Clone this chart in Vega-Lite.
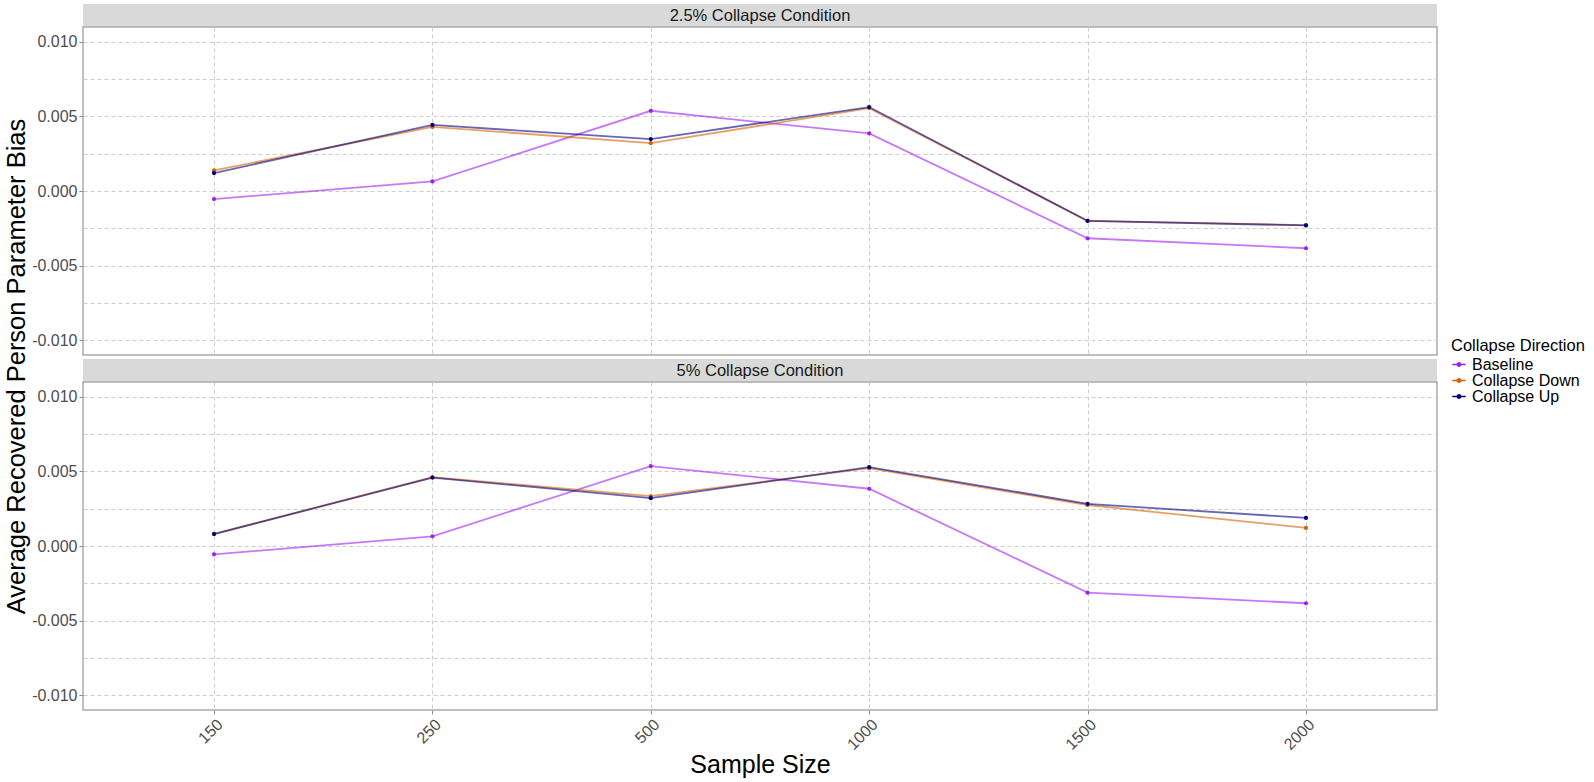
{
  "$schema": "https://vega.github.io/schema/vega-lite/v6.json",
  "padding": {"left": 3, "top": 4, "right": 5, "bottom": 0},
  "background": "white",
  "config": {
    "font": "Liberation Sans",
    "view": {"stroke": "#ababab", "strokeWidth": 1.5},
    "axis": {
      "domain": false,
      "gridColor": "#cccccc",
      "gridDash": [4, 3],
      "gridWidth": 1,
      "labelFont": "Liberation Sans",
      "labelFontSize": 16,
      "labelColor": "#4d4d4d",
      "tickColor": "#8c8c8c",
      "tickSize": 4,
      "tickWidth": 1,
      "titleFont": "Liberation Sans",
      "titleFontWeight": "normal",
      "titleFontSize": 25,
      "titleColor": "#000000"
    },
    "legend": {
      "titleFont": "Liberation Sans",
      "titleFontSize": 16.5,
      "titleFontWeight": "normal",
      "titleColor": "#000000",
      "labelFont": "Liberation Sans",
      "labelFontSize": 16,
      "labelColor": "#000000",
      "rowPadding": 0,
      "clipHeight": 14,
      "padding": 0,
      "titlePadding": 3,
      "labelOffset": 5,
      "symbolType": "M-1,0L1,0M-0.25,0A0.25,0.25,0,1,0,0.25,0A0.25,0.25,0,1,0,-0.25,0Z",
      "symbolSize": 180,
      "symbolStrokeWidth": 1.5,
      "symbolOpacity": 1
    }
  },
  "datasets": {
    "bias": [
      {"cond": "2.5%", "dir": "Baseline", "n": 150, "bias": -0.00054},
      {"cond": "2.5%", "dir": "Baseline", "n": 250, "bias": 0.00064},
      {"cond": "2.5%", "dir": "Baseline", "n": 500, "bias": 0.00538},
      {"cond": "2.5%", "dir": "Baseline", "n": 1000, "bias": 0.00386},
      {"cond": "2.5%", "dir": "Baseline", "n": 1500, "bias": -0.00317},
      {"cond": "2.5%", "dir": "Baseline", "n": 2000, "bias": -0.00384},
      {"cond": "2.5%", "dir": "Collapse Down", "n": 150, "bias": 0.00138},
      {"cond": "2.5%", "dir": "Collapse Down", "n": 250, "bias": 0.00430},
      {"cond": "2.5%", "dir": "Collapse Down", "n": 500, "bias": 0.00321},
      {"cond": "2.5%", "dir": "Collapse Down", "n": 1000, "bias": 0.00556},
      {"cond": "2.5%", "dir": "Collapse Down", "n": 1500, "bias": -0.00200},
      {"cond": "2.5%", "dir": "Collapse Down", "n": 2000, "bias": -0.00229},
      {"cond": "2.5%", "dir": "Collapse Up", "n": 150, "bias": 0.00120},
      {"cond": "2.5%", "dir": "Collapse Up", "n": 250, "bias": 0.00443},
      {"cond": "2.5%", "dir": "Collapse Up", "n": 500, "bias": 0.00348},
      {"cond": "2.5%", "dir": "Collapse Up", "n": 1000, "bias": 0.00563},
      {"cond": "2.5%", "dir": "Collapse Up", "n": 1500, "bias": -0.00201},
      {"cond": "2.5%", "dir": "Collapse Up", "n": 2000, "bias": -0.00231},
      {"cond": "5%", "dir": "Baseline", "n": 150, "bias": -0.00056},
      {"cond": "5%", "dir": "Baseline", "n": 250, "bias": 0.00065},
      {"cond": "5%", "dir": "Baseline", "n": 500, "bias": 0.00536},
      {"cond": "5%", "dir": "Baseline", "n": 1000, "bias": 0.00384},
      {"cond": "5%", "dir": "Baseline", "n": 1500, "bias": -0.00313},
      {"cond": "5%", "dir": "Baseline", "n": 2000, "bias": -0.00384},
      {"cond": "5%", "dir": "Collapse Down", "n": 150, "bias": 0.00081},
      {"cond": "5%", "dir": "Collapse Down", "n": 250, "bias": 0.00461},
      {"cond": "5%", "dir": "Collapse Down", "n": 500, "bias": 0.00335},
      {"cond": "5%", "dir": "Collapse Down", "n": 1000, "bias": 0.00522},
      {"cond": "5%", "dir": "Collapse Down", "n": 1500, "bias": 0.00275},
      {"cond": "5%", "dir": "Collapse Down", "n": 2000, "bias": 0.00121},
      {"cond": "5%", "dir": "Collapse Up", "n": 150, "bias": 0.00080},
      {"cond": "5%", "dir": "Collapse Up", "n": 250, "bias": 0.00459},
      {"cond": "5%", "dir": "Collapse Up", "n": 500, "bias": 0.00321},
      {"cond": "5%", "dir": "Collapse Up", "n": 1000, "bias": 0.00529},
      {"cond": "5%", "dir": "Collapse Up", "n": 1500, "bias": 0.00283},
      {"cond": "5%", "dir": "Collapse Up", "n": 2000, "bias": 0.00188}
    ]
  },
  "bounds": "flush",
  "spacing": 0,
  "resolve": {"scale": {"x": "independent", "y": "independent", "color": "shared"}},
  "vconcat": [
    {
      "width": 1354,
      "height": 23,
      "view": {"fill": "#d9d9d9", "stroke": null},
      "data": {"values": [{"label": "2.5% Collapse Condition"}]},
      "mark": {"type": "text", "fontSize": 16.5, "color": "#1a1a1a", "baseline": "middle", "font": "Liberation Sans"},
      "encoding": {"text": {"field": "label", "type": "nominal"}}
    },
    {
      "width": 1354,
      "height": 328,
      "data": {"name": "bias"},
      "transform": [{"filter": "datum.cond == '2.5%'"}],
      "encoding": {
        "x": {
          "field": "n", "type": "ordinal",
          "scale": {"type": "point", "padding": 0.6},
          "axis": {"labels": false, "ticks": false, "title": null, "grid": true}
        },
        "y": {
          "field": "bias", "type": "quantitative",
          "scale": {"domain": [-0.011, 0.011], "nice": false, "zero": false},
          "axis": {
            "values": [-0.01, -0.0075, -0.005, -0.0025, 0, 0.0025, 0.005, 0.0075, 0.01],
            "labelExpr": "round(datum.value*400) % 2 == 0 ? replace(format(datum.value, '.3f'), '\u2212', '-') : ''",
            "tickOpacity": {"condition": {"test": "round(datum.value*400) % 2 == 0", "value": 1}, "value": 0},
            "labelPadding": 2,
            "grid": true,
            "title": "Average Recovered Person Parameter Bias",
            "titleFontSize": 25.5,
            "titleX": -59,
            "titleY": 339,
            "titleAngle": 270,
            "titleAlign": "center",
            "titleBaseline": "alphabetic"
          }
        },
        "color": {
          "field": "dir", "type": "nominal",
          "scale": {"domain": ["Baseline", "Collapse Down", "Collapse Up"], "range": ["#A020F0", "#D95F02", "#000080"]},
          "legend": {"title": "Collapse Direction", "orient": "none", "legendX": 1368, "legendY": 334}
        }
      },
      "layer": [
        {"mark": {"type": "line", "strokeWidth": 1.8, "opacity": 0.6}},
        {"mark": {"type": "point", "filled": true, "size": 18, "opacity": 1}}
      ]
    },
    {
      "width": 1354,
      "height": 4,
      "view": {"stroke": null},
      "data": {"values": []},
      "mark": "text",
      "encoding": {}
    },
    {
      "width": 1354,
      "height": 23,
      "view": {"fill": "#d9d9d9", "stroke": null},
      "data": {"values": [{"label": "5% Collapse Condition"}]},
      "mark": {"type": "text", "fontSize": 16.5, "color": "#1a1a1a", "baseline": "middle", "font": "Liberation Sans"},
      "encoding": {"text": {"field": "label", "type": "nominal"}}
    },
    {
      "width": 1354,
      "height": 328,
      "data": {"name": "bias"},
      "transform": [{"filter": "datum.cond == '5%'"}],
      "encoding": {
        "x": {
          "field": "n", "type": "ordinal",
          "scale": {"type": "point", "padding": 0.6},
          "axis": {"title": "Sample Size", "labelAngle": -45, "labelAlign": "right", "labelBaseline": "top", "labelPadding": 2, "titlePadding": 0, "grid": true}
        },
        "y": {
          "field": "bias", "type": "quantitative",
          "scale": {"domain": [-0.011, 0.011], "nice": false, "zero": false},
          "axis": {
            "values": [-0.01, -0.0075, -0.005, -0.0025, 0, 0.0025, 0.005, 0.0075, 0.01],
            "labelExpr": "round(datum.value*400) % 2 == 0 ? replace(format(datum.value, '.3f'), '\u2212', '-') : ''",
            "tickOpacity": {"condition": {"test": "round(datum.value*400) % 2 == 0", "value": 1}, "value": 0},
            "labelPadding": 2,
            "grid": true,
            "title": null
          }
        },
        "color": {
          "field": "dir", "type": "nominal",
          "scale": {"domain": ["Baseline", "Collapse Down", "Collapse Up"], "range": ["#A020F0", "#D95F02", "#000080"]},
          "legend": {"title": "Collapse Direction", "orient": "none", "legendX": 1368, "legendY": 334}
        }
      },
      "layer": [
        {"mark": {"type": "line", "strokeWidth": 1.8, "opacity": 0.6}},
        {"mark": {"type": "point", "filled": true, "size": 18, "opacity": 1}}
      ]
    }
  ]
}
